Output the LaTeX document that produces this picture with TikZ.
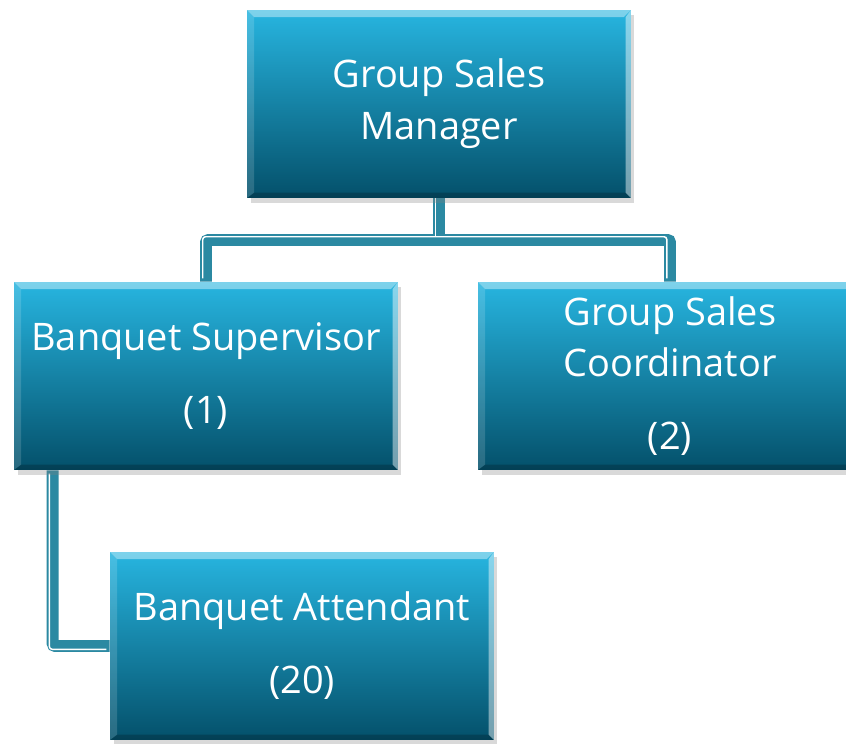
\documentclass[tikz,border=0pt]{standalone}
\usepackage{fontspec}
\setmainfont{Open Sans}
\usepackage{tikz}
\usetikzlibrary{positioning,calc,shadows}
\pgfdeclarelayer{bg}
\pgfsetlayers{bg,main}

\definecolor{boxtop}{HTML}{27B5E0}
\definecolor{boxmid}{HTML}{0890B6}
\definecolor{boxbot}{HTML}{04506A}
\definecolor{linkteal}{HTML}{2B89A2}

\newcommand{\bevel}{%
  \fill[white,opacity=.4] (path picture bounding box.north west) -- (path picture bounding box.north east)
    -- ([xshift=-4pt,yshift=-4pt]path picture bounding box.north east) -- ([xshift=4pt,yshift=-4pt]path picture bounding box.north west) -- cycle;
  \fill[white,opacity=.45] (path picture bounding box.north east) -- (path picture bounding box.south east)
    -- ([xshift=-3pt,yshift=3pt]path picture bounding box.south east) -- ([xshift=-3pt,yshift=-4pt]path picture bounding box.north east) -- cycle;
  \fill[white,opacity=.15] (path picture bounding box.north west) -- (path picture bounding box.south west)
    -- ([xshift=4pt,yshift=3pt]path picture bounding box.south west) -- ([xshift=4pt,yshift=-4pt]path picture bounding box.north west) -- cycle;
  \fill[black,opacity=.2] (path picture bounding box.south west) -- (path picture bounding box.south east)
    -- ([xshift=-3pt,yshift=3pt]path picture bounding box.south east) -- ([xshift=4pt,yshift=3pt]path picture bounding box.south west) -- cycle;
}

\tikzset{
  post/.style={top color=boxtop, middle color=boxmid, bottom color=boxbot,
    minimum width=7.68cm, minimum height=3.76cm, inner sep=0pt,
    text=white, align=center, font=\fontsize{21.6}{29.5}\selectfont,
    drop shadow={shadow xshift=2pt, shadow yshift=-3pt, opacity=.3},
    path picture={\bevel}},
  link/.style={draw=linkteal, line width=6.8pt, rounded corners=1.5pt},
  linkgap/.style={draw=white, line width=0.85pt, rounded corners=1.5pt}
}

\begin{document}
\begin{tikzpicture}[x=0.02cm, y=-0.02cm]
    \clip (0,0) rectangle (846,744);

    \node [post] (gsm) at (439,104) {Group Sales\\Manager};
    \node [post] (bs) at (206,376) {Banquet Supervisor\\[12pt](1)};
    \node [post] (gsc) at (670,376) {Group Sales\\Coordinator\\[12pt](2)};
    \node [post] (ba) at (302,646) {Banquet Attendant\\[12pt](20)};

    \coordinate (bus) at (439,240);
    \coordinate (bsdrop) at ([xshift=0.78cm]bs.south west);

    \begin{pgfonlayer}{bg}    % connectors go behind the boxes
        \draw [link] (gsm.south) -- (bus);
        \draw [link] (bs.north) |- (bus) -| (gsc.north);
        \draw [link] (bsdrop) |- (ba.west);
        \draw [linkgap, transform canvas={xshift=-1.85pt, yshift=1.85pt}] (gsm.south) -- (bus);
        \draw [linkgap, transform canvas={xshift=-1.85pt, yshift=1.85pt}] (bs.north) |- (bus) -| (gsc.north);
        \draw [linkgap, transform canvas={xshift=-1.85pt, yshift=-1.85pt}] (bsdrop) |- (ba.west);
    \end{pgfonlayer}
\end{tikzpicture}
\end{document}
